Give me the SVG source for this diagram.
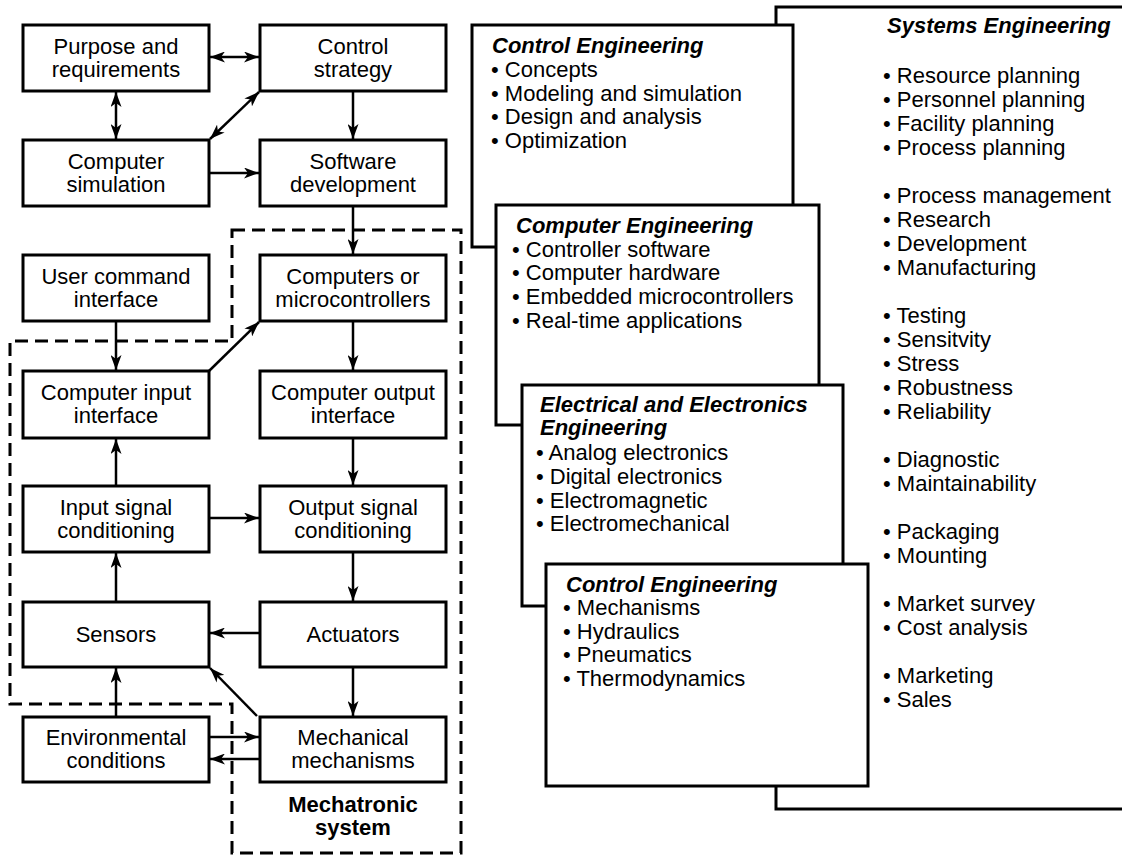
<svg xmlns="http://www.w3.org/2000/svg" width="1122" height="855" viewBox="0 0 1122 855">
<style>
.box{fill:#fff;stroke:#000;stroke-width:3}
.t{font-family:"Liberation Sans",Arial,sans-serif;font-size:22px;fill:#000;text-anchor:middle}
.b{font-weight:bold}
.pt{font-family:"Liberation Sans",Arial,sans-serif;font-size:22px;fill:#000}
.ttl{font-family:"Liberation Sans",Arial,sans-serif;font-size:22px;font-weight:bold;font-style:italic;fill:#000}
.conn{fill:none;stroke:#000;stroke-width:2.5}
.dash{fill:none;stroke:#000;stroke-width:3;stroke-dasharray:13 7}
</style>
<defs>
<marker id="ah" viewBox="0 0 15 11" refX="15" refY="5.5" markerWidth="15" markerHeight="11" markerUnits="userSpaceOnUse" orient="auto-start-reverse">
<path d="M0,0 L15,5.5 L0,11 L4,5.5 Z" fill="#000"/>
</marker>
</defs>
<rect width="1122" height="855" fill="#fff"/>

<!-- Right side panels -->
<g id="systems-engineering">
<rect class="box" x="776" y="7" width="400" height="802"/>
<text class="ttl" x="887" y="33">Systems Engineering</text>
<text class="pt" x="883" y="83">• Resource planning</text>
<text class="pt" x="883" y="107">• Personnel planning</text>
<text class="pt" x="883" y="131">• Facility planning</text>
<text class="pt" x="883" y="155">• Process planning</text>
<text class="pt" x="883" y="203">• Process management</text>
<text class="pt" x="883" y="227">• Research</text>
<text class="pt" x="883" y="251">• Development</text>
<text class="pt" x="883" y="275">• Manufacturing</text>
<text class="pt" x="883" y="323">• Testing</text>
<text class="pt" x="883" y="347">• Sensitvity</text>
<text class="pt" x="883" y="371">• Stress</text>
<text class="pt" x="883" y="395">• Robustness</text>
<text class="pt" x="883" y="419">• Reliability</text>
<text class="pt" x="883" y="467">• Diagnostic</text>
<text class="pt" x="883" y="491">• Maintainability</text>
<text class="pt" x="883" y="539">• Packaging</text>
<text class="pt" x="883" y="563">• Mounting</text>
<text class="pt" x="883" y="611">• Market survey</text>
<text class="pt" x="883" y="635">• Cost analysis</text>
<text class="pt" x="883" y="683">• Marketing</text>
<text class="pt" x="883" y="707">• Sales</text>
</g>

<g id="control-engineering-1">
<rect class="box" x="472" y="25" width="321" height="222"/>
<text class="ttl" x="492" y="53">Control Engineering</text>
<text class="pt" x="491" y="77">• Concepts</text>
<text class="pt" x="491" y="101">• Modeling and simulation</text>
<text class="pt" x="491" y="124">• Design and analysis</text>
<text class="pt" x="491" y="148">• Optimization</text>
</g>

<g id="computer-engineering">
<rect class="box" x="496" y="205" width="323" height="220"/>
<text class="ttl" x="516" y="233">Computer Engineering</text>
<text class="pt" x="512" y="257">• Controller software</text>
<text class="pt" x="512" y="280">• Computer hardware</text>
<text class="pt" x="512" y="304">• Embedded microcontrollers</text>
<text class="pt" x="512" y="328">• Real-time applications</text>
</g>

<g id="electrical-engineering">
<rect class="box" x="522" y="385" width="321" height="221"/>
<text class="ttl" x="540" y="412">Electrical and Electronics</text>
<text class="ttl" x="540" y="435">Engineering</text>
<text class="pt" x="536" y="460">• Analog electronics</text>
<text class="pt" x="536" y="484">• Digital electronics</text>
<text class="pt" x="536" y="508">• Electromagnetic</text>
<text class="pt" x="536" y="531">• Electromechanical</text>
</g>

<g id="control-engineering-2">
<rect class="box" x="546" y="564" width="322" height="222"/>
<text class="ttl" x="566" y="592">Control Engineering</text>
<text class="pt" x="563" y="615">• Mechanisms</text>
<text class="pt" x="563" y="639">• Hydraulics</text>
<text class="pt" x="563" y="662">• Pneumatics</text>
<text class="pt" x="563" y="686">• Thermodynamics</text>
</g>

<!-- Mechatronic system boundary -->
<g id="mechatronic-system">
<path class="dash" d="M232,230 H461 V853 H232 V704 H10 V341 H232 Z"/>
<text class="t b" x="353" y="812">Mechatronic</text>
<text class="t b" x="353" y="835">system</text>
</g>

<!-- Left nodes -->
<g id="purpose">
<rect class="box" x="23" y="25" width="186" height="66"/>
<text class="t" x="116" y="53.5">Purpose and</text>
<text class="t" x="116" y="76.5">requirements</text>
</g>
<g id="control-strategy">
<rect class="box" x="260" y="25" width="186" height="66"/>
<text class="t" x="353" y="53.5">Control</text>
<text class="t" x="353" y="76.5">strategy</text>
</g>
<g id="computer-simulation">
<rect class="box" x="23" y="140" width="186" height="66"/>
<text class="t" x="116" y="168.5">Computer</text>
<text class="t" x="116" y="191.5">simulation</text>
</g>
<g id="software-development">
<rect class="box" x="260" y="140" width="186" height="66"/>
<text class="t" x="353" y="168.5">Software</text>
<text class="t" x="353" y="191.5">development</text>
</g>
<g id="user-command">
<rect class="box" x="23" y="255" width="186" height="66"/>
<text class="t" x="116" y="283.5">User command</text>
<text class="t" x="116" y="306.5">interface</text>
</g>
<g id="computers">
<rect class="box" x="260" y="255" width="186" height="66"/>
<text class="t" x="353" y="283.5">Computers or</text>
<text class="t" x="353" y="306.5">microcontrollers</text>
</g>
<g id="computer-input">
<rect class="box" x="23" y="371" width="186" height="67"/>
<text class="t" x="116" y="400">Computer input</text>
<text class="t" x="116" y="423">interface</text>
</g>
<g id="computer-output">
<rect class="box" x="260" y="371" width="186" height="67"/>
<text class="t" x="353" y="400">Computer output</text>
<text class="t" x="353" y="423">interface</text>
</g>
<g id="input-signal">
<rect class="box" x="23" y="486" width="186" height="66"/>
<text class="t" x="116" y="514.5">Input signal</text>
<text class="t" x="116" y="537.5">conditioning</text>
</g>
<g id="output-signal">
<rect class="box" x="260" y="486" width="186" height="66"/>
<text class="t" x="353" y="514.5">Output signal</text>
<text class="t" x="353" y="537.5">conditioning</text>
</g>
<g id="sensors">
<rect class="box" x="23" y="602" width="186" height="65"/>
<text class="t" x="116" y="642">Sensors</text>
</g>
<g id="actuators">
<rect class="box" x="260" y="602" width="186" height="65"/>
<text class="t" x="353" y="642">Actuators</text>
</g>
<g id="environmental">
<rect class="box" x="23" y="717" width="186" height="65"/>
<text class="t" x="116" y="745">Environmental</text>
<text class="t" x="116" y="768">conditions</text>
</g>
<g id="mechanical">
<rect class="box" x="260" y="717" width="186" height="65"/>
<text class="t" x="353" y="745">Mechanical</text>
<text class="t" x="353" y="768">mechanisms</text>
</g>

<!-- Connectors -->
<g id="connectors">
<line class="conn" x1="210" y1="57" x2="259" y2="57" marker-start="url(#ah)" marker-end="url(#ah)"/>
<line class="conn" x1="116" y1="92" x2="116" y2="139" marker-start="url(#ah)" marker-end="url(#ah)"/>
<line class="conn" x1="259" y1="92" x2="210" y2="139" marker-start="url(#ah)" marker-end="url(#ah)"/>
<line class="conn" x1="353" y1="92" x2="353" y2="139" marker-end="url(#ah)"/>
<line class="conn" x1="210" y1="173" x2="259" y2="173" marker-end="url(#ah)"/>
<line class="conn" x1="353" y1="207" x2="353" y2="254" marker-end="url(#ah)"/>
<line class="conn" x1="116" y1="322" x2="116" y2="370" marker-end="url(#ah)"/>
<line class="conn" x1="209" y1="371" x2="259" y2="322" marker-end="url(#ah)"/>
<line class="conn" x1="353" y1="322" x2="353" y2="370" marker-end="url(#ah)"/>
<line class="conn" x1="353" y1="439" x2="353" y2="485" marker-end="url(#ah)"/>
<line class="conn" x1="116" y1="486" x2="116" y2="439" marker-end="url(#ah)"/>
<line class="conn" x1="210" y1="518" x2="259" y2="518" marker-end="url(#ah)"/>
<line class="conn" x1="353" y1="553" x2="353" y2="601" marker-end="url(#ah)"/>
<line class="conn" x1="260" y1="633" x2="210" y2="633" marker-end="url(#ah)"/>
<line class="conn" x1="116" y1="602" x2="116" y2="553" marker-end="url(#ah)"/>
<line class="conn" x1="257" y1="716" x2="210" y2="668" marker-end="url(#ah)"/>
<line class="conn" x1="353" y1="668" x2="353" y2="716" marker-end="url(#ah)"/>
<line class="conn" x1="116" y1="717" x2="116" y2="668" marker-end="url(#ah)"/>
<line class="conn" x1="210" y1="737" x2="259" y2="737" marker-end="url(#ah)"/>
<line class="conn" x1="260" y1="759" x2="210" y2="759" marker-end="url(#ah)"/>
</g>
</svg>
